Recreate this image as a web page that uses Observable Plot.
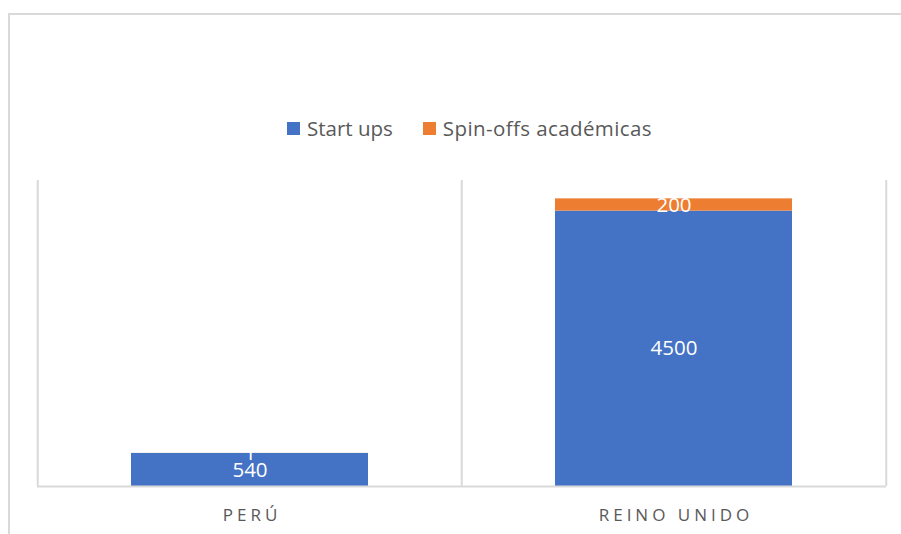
<!DOCTYPE html>
<html>
<head>
<meta charset="utf-8">
<script src="https://cdn.jsdelivr.net/npm/d3@7"></script>
<script src="https://cdn.jsdelivr.net/npm/@observablehq/plot@0.6"></script>
<style>
  body { margin: 0; background: #fff; overflow: hidden; font-family: "Open Sans", sans-serif; }
  #wrap { position: relative; width: 901px; height: 534px; overflow: hidden; }
  #border { position: absolute; left: 8px; top: 13px; width: 1000px; height: 1000px; border: 2px solid #D9D9D9; box-sizing: border-box; }
  #chart { position: absolute; left: 0; top: 0; }
  #legend { position: absolute; left: 287px; top: 114px; display: flex; align-items: center; font-size: 20.5px; color: #595959; white-space: nowrap; }
  #legend .item { display: flex; align-items: center; }
  #legend .sw { width: 13px; height: 13px; margin-right: 7px; }
  #legend .item + .item { margin-left: 30px; }
  #legend .item + .item span:last-child { letter-spacing: 0.4px; }
  #chart g[aria-label="x-axis tick label"] text { letter-spacing: 4px; }
</style>
</head>
<body>
<div id="wrap">
  <div id="border"></div>
  <div id="chart"></div>
  <div id="legend"></div>
</div>
<script>
const categories = ["PERÚ", "REINO UNIDO"];
const series = ["Start ups", "Spin-offs académicas"];
const startUps = [540, 4500];
const spinOffs = [1, 200];
const colors = ["#4472C4", "#ED7D31"];

const seriesValues = [startUps, spinOffs];
const data = series.flatMap((s, i) =>
  categories.map((c, j) => ({ cat: c, series: s, value: seriesValues[i][j] }))
);

const W = 901, H = 534, mL = 37, mR = 15, mT = 180, mB = 48;
const pIn = 0.442, pOut = pIn / 2;
const step = (W - mL - mR) / (categories.length - pIn + 2 * pOut);
const grid = "#D9D9D9";

const plot = Plot.plot({
  width: W,
  height: H,
  marginLeft: mL,
  marginRight: mR,
  marginTop: mT,
  marginBottom: mB,
  style: { fontFamily: "'Open Sans', sans-serif", background: "transparent" },
  x: { domain: categories, paddingInner: pIn, paddingOuter: pOut, label: null, axis: null },
  y: { domain: [0, 5000], axis: null },
  color: { domain: series, range: colors },
  marks: [
    Plot.ruleX(categories, { dx: -step / 2, stroke: grid, strokeWidth: 2 }),
    Plot.ruleX([categories[categories.length - 1]], { dx: step / 2, stroke: grid, strokeWidth: 2 }),
    Plot.barY(data, { x: "cat", y: "value", fill: "series", z: "series" }),
    Plot.ruleY([0], { stroke: grid, strokeWidth: 2 }),
    Plot.text(data, Plot.stackY({ x: "cat", y: "value", z: "series", text: d => String(d.value), fill: "white", fontSize: 20.5 })),
    Plot.axisX({ tickSize: 0, tickPadding: 22, fontSize: 17, fill: "#595959", dx: 2, label: null })
  ]
});
document.getElementById("chart").appendChild(plot);

const legend = document.getElementById("legend");
series.forEach((s, i) => {
  const item = document.createElement("div");
  item.className = "item";
  const sw = document.createElement("span");
  sw.className = "sw";
  sw.style.background = colors[i];
  const t = document.createElement("span");
  t.textContent = s;
  item.appendChild(sw);
  item.appendChild(t);
  legend.appendChild(item);
});
</script>
</body>
</html>
